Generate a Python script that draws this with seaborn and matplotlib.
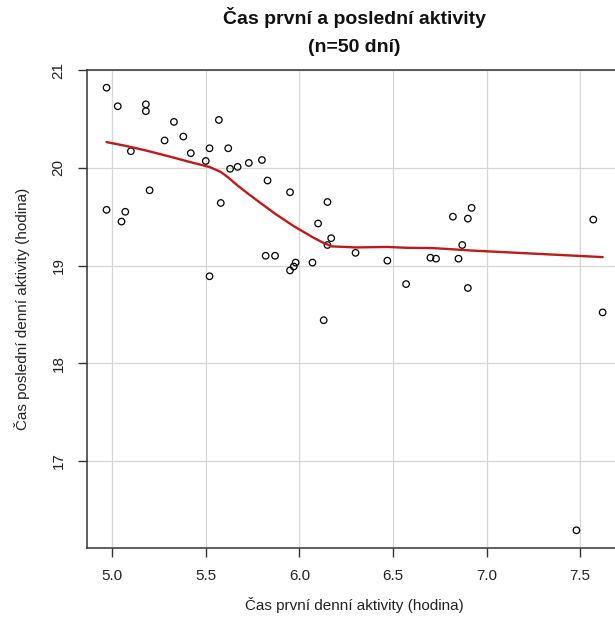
import numpy as np
import pandas as pd
import seaborn as sns
import matplotlib
matplotlib.use("Agg")
import matplotlib.pyplot as plt

# Time of first and last activity per day (hours), n = 50 days
first_hour = [
    4.97, 5.03, 5.18, 5.18, 5.33, 5.57, 5.28, 5.38, 5.10, 5.42,
    5.52, 5.62, 5.50, 5.63, 5.67, 5.73, 5.20, 5.58, 4.97, 5.07,
    5.05, 5.52, 5.80, 5.83, 5.95, 6.15, 6.10, 6.17, 6.15, 5.82,
    5.87, 5.98, 5.97, 5.95, 6.07, 6.30, 6.47, 6.57, 6.13, 6.70,
    6.82, 6.90, 6.92, 6.87, 6.73, 6.85, 6.90, 7.57, 7.62, 7.48,
]
last_hour = [
    20.82, 20.63, 20.65, 20.58, 20.47, 20.49, 20.28, 20.32, 20.17, 20.15,
    20.20, 20.20, 20.07, 19.99, 20.01, 20.05, 19.77, 19.64, 19.57, 19.55,
    19.45, 18.89, 20.08, 19.87, 19.75, 19.65, 19.43, 19.28, 19.21, 19.10,
    19.10, 19.03, 18.99, 18.95, 19.03, 19.13, 19.05, 18.81, 18.44, 19.08,
    19.50, 19.48, 19.59, 19.21, 19.07, 19.07, 18.77, 19.47, 18.52, 16.29,
]

x_ticks = [5.0, 5.5, 6.0, 6.5, 7.0, 7.5]
y_ticks = [17, 18, 19, 20, 21]
title_lines = ["Čas první a poslední aktivity", "(n=50 dní)"]
x_label = "Čas první denní aktivity (hodina)"
y_label = "Čas poslední denní aktivity (hodina)"


def lowess(x, y, f=2 / 3, iters=3):
    """Locally weighted scatterplot smoothing (Cleveland's robust lowess)."""
    x = np.asarray(x, float)
    y = np.asarray(y, float)
    order = np.argsort(x, kind="stable")
    x, y = x[order], y[order]
    n = len(x)
    ns = max(min(int(f * n + 1e-7), n), 2)
    span = x[-1] - x[0]
    rw = np.ones(n)
    fit = np.zeros(n)
    for it in range(iters + 1):
        for i in range(n):
            d = np.abs(x - x[i])
            h = np.sort(d)[ns - 1]
            w = np.where(d <= 0.999 * h,
                         np.where(d > 0.001 * h, (1 - (d / h) ** 3) ** 3, 1.0),
                         0.0) * rw
            if w.sum() <= 0:
                fit[i] = y[i]
                continue
            w = w / w.sum()
            a = np.sum(w * x)
            b = x[i] - a
            c = np.sum(w * (x - a) ** 2)
            if h > 0 and np.sqrt(c) > 0.001 * span:
                p = w * (b * (x - a) / c + 1.0)
            else:
                p = w
            fit[i] = np.sum(p * y)
        if it == iters:
            break
        res = np.abs(y - fit)
        cmad = 6.0 * np.median(res)
        if cmad < 1e-7 * np.mean(np.abs(y)):
            break
        r = res / cmad
        rw = np.where(r <= 0.001, 1.0, np.where(r <= 0.999, (1 - r ** 2) ** 2, 0.0))
    return x, fit


df = pd.DataFrame({"first": first_hour, "last": last_hour})
sx, sy = lowess(df["first"], df["last"])
smooth = pd.DataFrame({"first": sx, "last": sy})

sns.set_theme(style="white")
plt.rcParams["font.family"] = ["Liberation Sans", "DejaVu Sans"]

W, H = 615, 631
fig = plt.figure(figsize=(W / 100, H / 100), dpi=100)
left_px, right_px, top_px, bottom_px = 86.7, 622.5, 70.0, 548.0
ax = fig.add_axes([left_px / W, 1 - bottom_px / H,
                   (right_px - left_px) / W, (bottom_px - top_px) / H])

ax.grid(True, color="#D6D6D6", linewidth=0.9)
ax.set_axisbelow(True)

sns.scatterplot(data=df, x="first", y="last", ax=ax, marker="o", s=22,
                facecolor="none", edgecolor="black", linewidth=0.9, zorder=3)
sns.lineplot(data=smooth, x="first", y="last", ax=ax, estimator=None,
             color="#BE1A1E", linewidth=1.7, zorder=4)

# axis range padded by 4% of the data range on each side
xr = df["first"].max() - df["first"].min()
yr = df["last"].max() - df["last"].min()
ax.set_xlim(df["first"].min() - 0.04 * xr, df["first"].max() + 0.04 * xr)
ax.set_ylim(df["last"].min() - 0.04 * yr, df["last"].max() + 0.04 * yr)

ax.set_xticks(x_ticks)
ax.set_xticklabels([f"{v:.1f}" for v in x_ticks])
ax.set_yticks(y_ticks)
ax.set_yticklabels([str(v) for v in y_ticks], rotation=90, va="center")

ax.tick_params(axis="both", which="major", direction="out", length=6.3,
               width=1.0, color="#333333", labelsize=11, labelcolor="#222222",
               pad=9.0, bottom=True, left=True)

for side in ["left", "bottom", "top"]:
    ax.spines[side].set_visible(True)
    ax.spines[side].set_color("#333333")
    ax.spines[side].set_linewidth(1.1)
ax.spines["right"].set_visible(False)

ax.set_xlabel(x_label, fontsize=11, color="#222222")
ax.set_ylabel(y_label, fontsize=11, color="#222222")
ax.xaxis.label.set_va("center")
ax.yaxis.label.set_va("center")
ax.xaxis.set_label_coords(0.5, (bottom_px - 605) / (bottom_px - top_px))
ax.yaxis.set_label_coords((22 - left_px) / (right_px - left_px), 0.5)

cx = (left_px + right_px) / 2 / W
fig.text(cx, 1 - 18 / H, title_lines[0], ha="center", va="center",
         fontsize=14, fontweight="bold", color="#111111")
fig.text(cx, 1 - 47 / H, title_lines[1], ha="center", va="center",
         fontsize=14, fontweight="bold", color="#111111")

fig.savefig("out.png", dpi=100)
